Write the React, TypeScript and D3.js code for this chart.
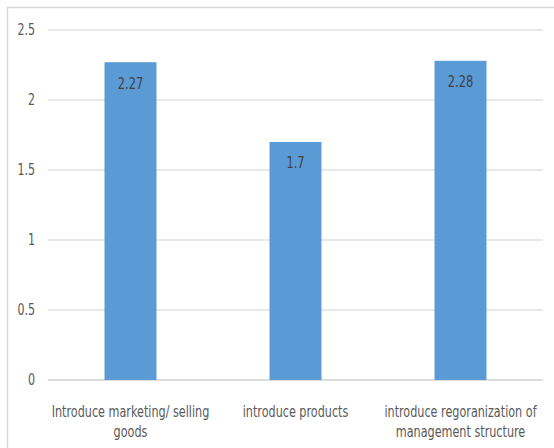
import React from "react";
import * as d3 from "d3";

const categories = [
  ["Introduce marketing/ selling", "goods"],
  ["introduce products"],
  ["introduce regoranization of", "management structure"],
];
const values = [2.27, 1.7, 2.28];
const yTicks = [0, 0.5, 1, 1.5, 2, 2.5];

const W = 554;
const H = 448;
const FONT = "'DejaVu Sans Condensed', 'Liberation Sans Narrow', sans-serif";

export default function App() {
  const left = 48;
  const right = 543;
  const top = 30;
  const bottom = 380;
  const x = d3
    .scaleBand<number>()
    .domain(d3.range(values.length))
    .range([left, right])
    .paddingInner(0.685)
    .paddingOuter(0.3425);
  const y = d3.scaleLinear().domain([0, 2.5]).range([bottom, top]);
  const cx = (i: number) => (x(i) as number) + x.bandwidth() / 2;

  return (
    <svg
      width={W}
      height={H}
      style={{ position: "absolute", left: 0, top: 0, background: "#fff" }}
      fontFamily={FONT}
    >
      <rect x={7.5} y={7.5} width={W + 10} height={H + 10} fill="#fff" stroke="#d9d9d9" strokeWidth={1.5} />
      {yTicks.map((t) => (
        <g key={t}>
          <line x1={left} x2={right} y1={y(t)} y2={y(t)} stroke={t === 0 ? "#d0d0d0" : "#e0e0e0"} strokeWidth={1.3} />
          <text
            transform={`translate(35,${y(t)}) scale(0.82,1)`}
            dy="0.35em"
            textAnchor="end"
            fontSize={15}
            fill="#595959"
          >
            {t}
          </text>
        </g>
      ))}
      {values.map((v, i) => (
        <g key={i}>
          <rect x={x(i)} y={y(v)} width={x.bandwidth()} height={bottom - y(v)} fill="#5b9bd5" />
          <text
            transform={`translate(${cx(i)},${y(v) + 21}) scale(0.82,1)`}
            dy="0.35em"
            textAnchor="middle"
            fontSize={15.5}
            fill="#404040"
          >
            {v}
          </text>
        </g>
      ))}
      {categories.map((lines, i) => (
        <text
          key={i}
          transform={`translate(${cx(i)},0) scale(0.78,1)`}
          textAnchor="middle"
          fontSize={16}
          fill="#595959"
        >
          {lines.map((l, j) => (
            <tspan key={j} x={0} y={417 + j * 20}>
              {l}
            </tspan>
          ))}
        </text>
      ))}
    </svg>
  );
}
